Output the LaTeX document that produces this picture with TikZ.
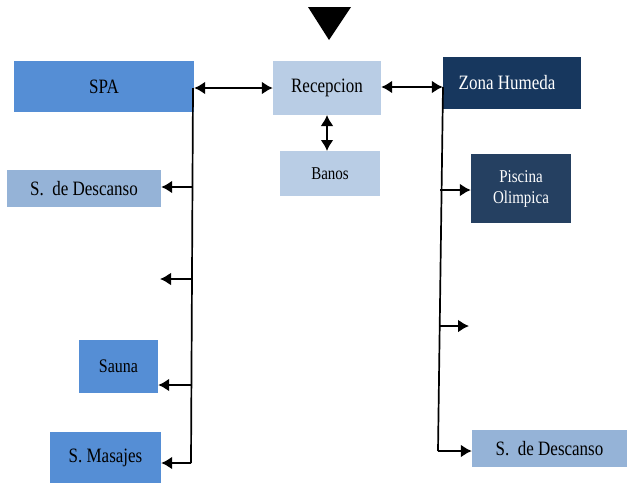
\documentclass[tikz,border=0pt]{standalone}
\usepackage{fontspec}
\setmainfont{Liberation Serif}
\usetikzlibrary{arrows.meta}
\newcommand{\stl}[1]{\scalebox{1}[1.2]{#1}}
\definecolor{cmid}{HTML}{558ED5}
\definecolor{clight}{HTML}{B9CDE5}
\definecolor{csoft}{HTML}{95B3D7}
\definecolor{cnavy}{HTML}{17375E}
\definecolor{cdark}{HTML}{254061}
\begin{document}
\begin{tikzpicture}[x=1pt,y=-1pt,
  box/.style={draw=none,inner sep=0pt,minimum width=#1,anchor=center,align=center,
    font=\fontsize{17}{20}\selectfont},
  conn/.style={line width=2pt,-{Latex[length=11pt,width=13pt]}},
  biconn/.style={line width=2pt,{Latex[length=11pt,width=13pt]}-{Latex[length=11pt,width=13pt]}},
  trunk/.style={line width=1.7pt}]
\useasboundingbox (0,0) rectangle (627,483);
% top marker
\fill[black] (308,7) -- (351,7) -- (329,40) -- cycle;
% nodes
\node[box=180pt,minimum height=51pt,fill=cmid] (spa) at (104,86.5) {\stl{SPA}};
\node[box=108pt,minimum height=54pt,fill=clight] (rec) at (327,88) {\stl{Recepcion}};
\node[box=100pt,minimum height=45pt,fill=clight,font=\fontsize{15}{18}\selectfont] (ban) at (330,173.5) {\stl{Banos}};
\node[box=138pt,minimum height=52pt,fill=cnavy,text=white] (zona) at (512,83) {\stl{Zona Humeda}\hspace*{10pt}};
\node[box=100pt,minimum height=69pt,fill=cdark,text=white,font=\fontsize{15}{21}\selectfont] (pisc) at (521,188.5) {\stl{Piscina}\\\stl{Olimpica}};
\node[box=154pt,minimum height=37pt,fill=csoft] (desl) at (84,188.5) {\stl{S.\ \ de Descanso}};
\node[box=79pt,minimum height=53pt,fill=cmid,font=\fontsize{16}{19}\selectfont] (sauna) at (118.5,366.5) {\stl{Sauna}};
\node[box=111pt,minimum height=51pt,fill=cmid] (mas) at (105.5,457.5) {\stl{S. Masajes}};
\node[box=155pt,minimum height=37pt,fill=csoft] (desr) at (549.5,448.5) {\stl{S.\ \ de Descanso}};
% trunk coordinates
\coordinate (lt) at (193,88);
\coordinate (lb) at (191,463);
\coordinate (rt) at (443,87);
\coordinate (rb) at (438,451);
\coordinate (lempty) at (160,279);
\coordinate (lemptyb) at (192,279);
\coordinate (rempty) at (469,326);
\coordinate (remptyb) at (440,326);
% connectors
\draw[biconn] (spa.east |- lt) -- (rec.west |- lt);
\draw[biconn] (rec.east |- rt) -- (zona.west |- rt);
\draw[biconn] (327,115) -- (327,151);
\draw[trunk] (lt) -- (lb);
\draw[trunk] (rt) -- (rb);
\draw[conn] (192.5,187) -- (desl.east |- 0,187);
\draw[conn] (lemptyb) -- (lempty);
\draw[conn] (191.5,385) -- (sauna.east |- 0,385);
\draw[conn] (lb) -- (mas.east |- lb);
\draw[conn] (440,190) -- (pisc.west |- 0,190);
\draw[conn] (remptyb) -- (rempty);
\draw[conn] (rb) -- (desr.west |- rb);
\end{tikzpicture}
\end{document}
